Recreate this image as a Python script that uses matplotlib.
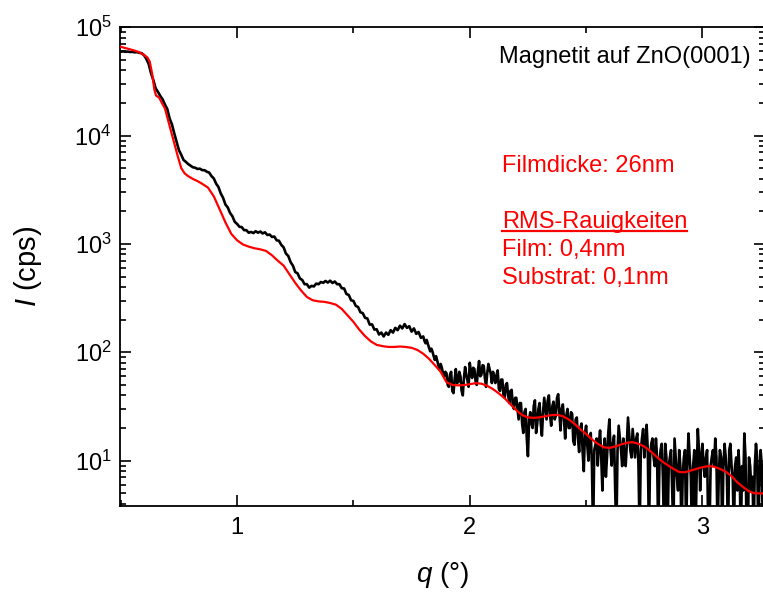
import numpy as np
import matplotlib
matplotlib.use("Agg")
import matplotlib.pyplot as plt
from matplotlib.ticker import MultipleLocator, LogLocator, NullFormatter
from matplotlib.lines import Line2D

plt.rcParams['font.family'] = ['Liberation Sans', 'DejaVu Sans']
plt.rcParams['mathtext.fontset'] = 'custom'
plt.rcParams['mathtext.rm'] = 'Liberation Sans'
plt.rcParams['mathtext.it'] = 'Liberation Sans:italic'

# ---- data: measured reflectivity (black) ----
# low-q part: q = 0.50 .. 1.79, step 0.01
measured_low = [
    59500, 59800, 59300, 59600, 59100, 59300, 58700, 58900, 58000, 57600,
    55200, 51000, 45900, 37800, 32600, 27300, 25300, 23200, 21600, 19300,
    17600, 14400, 12700, 10500, 8800, 7350, 6650, 5950, 5720, 5460,
    5280, 5100, 5050, 4920, 4950, 4800, 4790, 4640, 4560, 4230,
    4020, 3600, 3350, 2920, 2660, 2310, 2170, 1930, 1800, 1600,
    1530, 1440, 1430, 1340, 1340, 1270, 1290, 1260, 1310, 1270,
    1300, 1250, 1280, 1210, 1220, 1160, 1170, 1080, 1070, 980,
    930, 815, 775, 680, 630, 550, 535, 480, 465, 425,
    425, 395, 410, 405, 430, 425, 445, 438, 455, 440,
    458, 436, 450, 425, 425, 390, 388, 345, 338, 302,
    298, 268, 262, 234, 230, 208, 205, 180, 181, 162,
    163, 146, 152, 140, 152, 145, 160, 152, 168, 160,
    176, 166, 182, 168, 174, 155, 166, 148, 154, 136,
]
# high-q part: q = 1.80 .. 3.27, step 0.005
measured_high = [
    140, 128, 121, 130, 119, 110, 102, 108, 101, 92,
    85, 92, 84, 76, 70, 78, 72, 64, 60, 66,
    64, 50, 48, 62, 66, 44, 42, 56, 70, 52,
    53, 66, 60, 44, 40, 58, 73, 62, 55, 48,
    80, 66, 58, 72, 70, 54, 50, 68, 83, 60,
    62, 76, 75, 58, 48, 64, 78, 70, 64, 52,
    66, 58, 52, 62, 68, 46, 44, 56, 56, 40,
    38, 50, 52, 40, 34, 44, 45, 32, 30, 38,
    38, 30, 24, 34, 34, 22, 18, 28, 30, 16,
    11, 24, 28, 22, 20, 32, 36, 18, 22, 30,
    34, 22, 17, 28, 38, 30, 24, 36, 40, 26,
    21, 32, 35, 24, 26, 38, 41, 28, 19, 30,
    33, 24, 16, 26, 30, 20, 20, 28, 27, 15,
    14, 24, 25, 16, 12, 20, 22, 12, 8, 18,
    21, 14, 10, 17, 18, 8.9, 2, 12.5, 14, 16,
    9, 14.3, 19, 10.7, 5.3, 12.5, 16, 7.1, 11, 17.8,
    24, 12.5, 9, 14.3, 17, 5.3, 2, 12.5, 21, 16,
    12.5, 8.9, 16, 10.7, 8.9, 14.3, 25, 17.8, 12.5, 10.7,
    19.6, 14.3, 10.7, 16, 17.8, 8.9, 2, 12.5, 16, 19.6,
    10.7, 14.3, 21.4, 12.5, 2, 10.7, 14.3, 16, 10.7, 8.9,
    16, 10.7, 2, 8.9, 12.5, 14.3, 7.1, 2, 14.3, 10.7,
    2, 8.9, 10.7, 12.5, 5.3, 2, 16, 10.7, 7.1, 5.3,
    12.5, 8.9, 2, 7.1, 10.7, 12.5, 2, 8.9, 17.8, 10.7,
    7.1, 2, 8.9, 12.5, 2, 7.1, 19.6, 12.5, 5.3, 10.7,
    14.3, 8.9, 7.1, 10.7, 12.5, 2, 2, 8.9, 10.7, 12.5,
    8.9, 16, 10.7, 2, 7.1, 12.5, 10.7, 2, 8.9, 14.3,
    10.7, 7.1, 2, 12.5, 14.3, 8.9, 7.1, 2, 8.9, 10.7,
    5.3, 12.5, 7.1, 2, 8.9, 5.3, 17.8, 10.7, 2, 2,
    10.7, 8.9, 5.3, 7.1, 2, 8.9, 14.3, 10.7, 2, 7.1,
    12.5, 8.9, 2, 7.1, 10.7,
]
q_low = np.round(0.50 + 0.01 * np.arange(len(measured_low)), 3)
q_high = np.round(1.80 + 0.005 * np.arange(len(measured_high)), 3)
q_measured = np.concatenate([q_low, q_high])
measured = np.concatenate([measured_low, measured_high])

# ---- data: simulated fit (red) ----
q_fit = [0.50, 0.525, 0.55, 0.575, 0.60, 0.615, 0.625, 0.635, 0.645, 0.652,
         0.665, 0.675, 0.69, 0.70, 0.715, 0.73, 0.745, 0.76, 0.775, 0.79,
         0.81, 0.83, 0.85, 0.875, 0.90, 0.925, 0.95, 0.975, 1.00, 1.025,
         1.05, 1.075, 1.10, 1.125, 1.15, 1.175, 1.20, 1.225, 1.25, 1.275,
         1.30, 1.325, 1.35, 1.375, 1.40, 1.425, 1.45, 1.475, 1.50, 1.525,
         1.55, 1.575, 1.60, 1.625, 1.65, 1.675, 1.70, 1.725, 1.75, 1.775,
         1.80, 1.825, 1.85, 1.875, 1.90, 1.925, 1.95, 1.975, 2.00, 2.025,
         2.05, 2.075, 2.10, 2.125, 2.15, 2.175, 2.20, 2.225, 2.25, 2.275,
         2.30, 2.325, 2.35, 2.375, 2.40, 2.425, 2.45, 2.475, 2.50, 2.525,
         2.55, 2.575, 2.60, 2.625, 2.65, 2.675, 2.70, 2.725, 2.75, 2.775,
         2.80, 2.825, 2.85, 2.875, 2.90, 2.925, 2.95, 2.975, 3.00, 3.025,
         3.05, 3.075, 3.10, 3.125, 3.15, 3.175, 3.20, 3.225, 3.25, 3.275]
fit = [66000, 63800, 61700, 59300, 55600, 52500, 47900, 37200, 26300, 23400,
       22400, 20400, 17800, 14800, 11200, 8500, 6460, 5010, 4470, 4220,
       3980, 3800, 3590, 3310, 2750, 2090, 1580, 1240, 1080, 990,
       944, 912, 891, 861, 785, 700, 631, 525, 437, 372,
       324, 302, 295, 292, 285, 275, 251, 219, 191, 162,
       141, 126, 117, 114, 112, 112, 113, 112, 110, 105,
       97, 87, 76, 66, 53, 50, 49.5, 49.8, 50.7, 51.9,
       51.3, 49, 45.7, 41.7, 37.6, 33.1, 29.2, 26.3, 25.1, 24.8,
       25.1, 25.7, 26.3, 26.5, 25.7, 24.0, 21.9, 19.5, 17.6, 15.7,
       14.3, 13.3, 13.1, 13.5, 14.1, 14.6, 14.8, 14.3, 13.5, 12.3,
       11.0, 9.9, 9.1, 8.4, 7.85, 7.8, 8.1, 8.4, 8.7, 8.9,
       8.8, 8.4, 7.9, 7.2, 6.3, 5.7, 5.2, 5.0, 4.98, 5.0]

title_text = "Magnetit auf ZnO(0001)"
fit_texts = ["Filmdicke: 26nm", "RMS-Rauigkeiten", "Film: 0,4nm", "Substrat: 0,1nm"]

fig = plt.figure(figsize=(7.63, 5.92), dpi=100)
ax = fig.add_axes([0.157, 0.145, 0.846, 0.809])

ax.plot(q_measured, measured, color='black', lw=1.9, zorder=2)
ax.plot(q_fit, fit, color='#ff0000', lw=1.6, zorder=3)

ax.set_yscale('log')
ax.set_xlim(0.496, 3.27)
ax.set_ylim(3.8, 1e5)

ax.xaxis.set_major_locator(MultipleLocator(1))
ax.xaxis.set_minor_locator(MultipleLocator(0.5))
ax.yaxis.set_major_locator(LogLocator(base=10, numticks=10))
ax.yaxis.set_minor_locator(LogLocator(base=10, subs=np.arange(2, 10), numticks=20))
ax.yaxis.set_minor_formatter(NullFormatter())

ax.tick_params(which='both', direction='in', top=True, right=True, width=1.2,
               labelsize=17, colors='black')
ax.tick_params(which='major', length=8)
ax.tick_params(which='minor', length=4.5)
ax.tick_params(axis='x', pad=8)
ax.tick_params(axis='y', pad=6)
for s in ax.spines.values():
    s.set_linewidth(1.3)

ax.set_xlabel(r'$\mathit{q}$ (°)', fontsize=20, labelpad=15)
ax.set_ylabel(r'$\mathit{I}$ (cps)', fontsize=21, labelpad=22)

ax.text(0.588, 0.938, title_text, transform=ax.transAxes, fontsize=17,
        color='black', va='center', ha='left')
ys = [0.710, 0.594, 0.534, 0.476]
for t, yy in zip(fit_texts, ys):
    ax.text(0.592, yy, t, transform=ax.transAxes, fontsize=17,
            color='#ff0000', va='center', ha='left')
ax.add_line(Line2D([0.592, 0.878], [0.574, 0.574], transform=ax.transAxes,
                   color='#ff0000', lw=1.6))

fig.savefig('out.png', dpi=100)
